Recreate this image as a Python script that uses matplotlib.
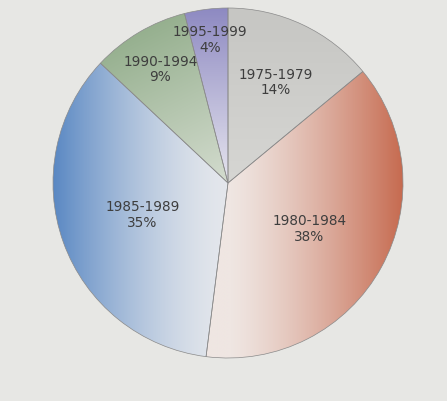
import matplotlib
matplotlib.use("Agg")
import matplotlib.pyplot as plt
import numpy as np
from matplotlib.colors import LinearSegmentedColormap

# Share of each period
periods = ["1975-1979", "1980-1984", "1985-1989", "1990-1994", "1995-1999"]
shares = [14, 38, 35, 9, 4]

# Gradient end colours (light end, strong end) for each wedge
light_cols = ["#d6d6d3", "#efe6e2", "#e4e7ec", "#d4dccf", "#e6e5ee"]
dark_cols = ["#c6c6c3", "#c66a4f", "#5a88c3", "#96b08f", "#8e8ac2"]
# direction the colour gets stronger: (dx, dy)
grad_dirs = [(0, 1), (1, 0), (-1, 0), (-0.5, 1), (0, 1)]
grad_pow = [1.0, 1.3, 1.5, 1.0, 1.0]
label_dist = [0.64, 0.53, 0.52, 0.76, 0.83]

BG = "#e7e7e4"

fig = plt.figure(figsize=(4.47, 4.02), dpi=100, facecolor=BG)
# pie centre at (228, 184) px, radius 175 px
ax = fig.add_axes([(228 - 175) / 447, (402 - 184 - 175) / 402, 350 / 447, 350 / 402])
ax.set_facecolor(BG)

wedges, _ = ax.pie(shares, startangle=90, counterclock=False, radius=1,
                   wedgeprops=dict(facecolor="none", edgecolor="#8a8a8a", linewidth=0.5))

# grid for the gradient images
n = 400
xs = np.linspace(-1, 1, n)
X, Y = np.meshgrid(xs, xs)

for i, w in enumerate(wedges):
    dx, dy = grad_dirs[i]
    t = (X * dx + Y * dy) / np.hypot(dx, dy)
    t = np.clip(t, 0, 1) ** grad_pow[i]
    cmap = LinearSegmentedColormap.from_list("g%d" % i, [light_cols[i], dark_cols[i]])
    im = ax.imshow(t, cmap=cmap, vmin=0, vmax=1, extent=(-1, 1, -1, 1),
                   origin="lower", interpolation="bilinear", zorder=0)
    im.set_clip_path(w)

for i, w in enumerate(wedges):
    mid = np.deg2rad((w.theta1 + w.theta2) / 2)
    r = label_dist[i]
    ax.text(r * np.cos(mid), r * np.sin(mid), periods[i] + "\n" + str(shares[i]) + "%",
            ha="center", va="center", fontsize=9.8, color="#3e3e3e",
            linespacing=1.15, zorder=5)

ax.set_xlim(-1, 1)
ax.set_ylim(-1, 1)
ax.set_aspect("auto")
ax.axis("off")

fig.savefig("out.png", dpi=100, facecolor=BG)
